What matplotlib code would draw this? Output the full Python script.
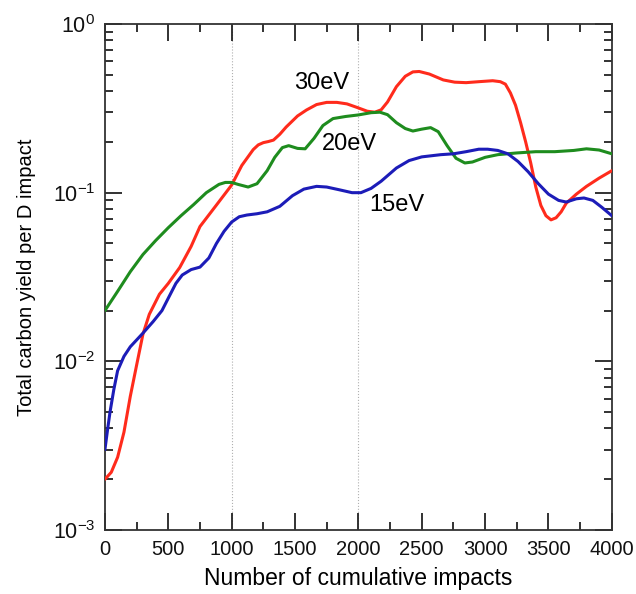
import matplotlib
matplotlib.use("Agg")
import matplotlib.pyplot as plt
from matplotlib.ticker import LogLocator, MultipleLocator, FixedLocator, FixedFormatter, NullFormatter

plt.rcParams["font.family"] = ["Liberation Sans", "DejaVu Sans"]
plt.rcParams["mathtext.fontset"] = "custom"
plt.rcParams["mathtext.rm"] = "Liberation Sans"
plt.rcParams["mathtext.default"] = "regular"

# 30 eV series
x30 = [0, 50, 100, 150, 200, 250, 300, 350, 430, 500, 590, 680, 750, 880, 1000,
       1080, 1170, 1210, 1250, 1290, 1330, 1380, 1430, 1520, 1590, 1670, 1750, 1830,
       1910, 1990, 2070, 2130, 2180, 2230, 2300, 2370, 2430, 2480, 2560, 2670, 2760,
       2850, 2950, 3060, 3120, 3160, 3200, 3240, 3280, 3320, 3360, 3400, 3440, 3480,
       3520, 3560, 3600, 3640, 3720, 3800, 3900, 4000]
y30 = [0.002, 0.0022, 0.0027, 0.0038, 0.0062, 0.0095, 0.0145, 0.019, 0.025, 0.029,
       0.036, 0.048, 0.063, 0.0845, 0.111,
       0.145, 0.18, 0.192, 0.198, 0.201, 0.205, 0.222, 0.245, 0.285, 0.309, 0.333, 0.343,
       0.343, 0.336, 0.32, 0.304, 0.30, 0.31, 0.345, 0.425, 0.49, 0.52, 0.523, 0.505,
       0.466, 0.452, 0.449, 0.455, 0.461, 0.455, 0.44, 0.39, 0.33, 0.26, 0.2, 0.15,
       0.108, 0.084, 0.073, 0.069, 0.071, 0.077, 0.0865, 0.098, 0.109, 0.122, 0.135]

# 20 eV series
x20 = [0, 100, 200, 300, 400, 500, 600, 700, 800, 900, 950, 1000, 1050, 1130, 1200,
       1280, 1340, 1400, 1450, 1520, 1580, 1650, 1720, 1800, 1900, 2000, 2100, 2170,
       2230, 2300, 2370, 2430, 2500, 2570, 2630, 2700, 2770, 2840, 2900, 3000, 3100,
       3250, 3400, 3550, 3700, 3800, 3900, 4000]
y20 = [0.02, 0.026, 0.034, 0.043, 0.052, 0.062, 0.073, 0.085, 0.100, 0.112, 0.115, 0.115,
       0.112, 0.108, 0.113, 0.135, 0.162, 0.185, 0.19, 0.183, 0.182, 0.21, 0.25, 0.275,
       0.283, 0.289, 0.298, 0.30, 0.29, 0.26, 0.24, 0.232, 0.238, 0.243, 0.23, 0.19,
       0.16, 0.15, 0.152, 0.162, 0.168, 0.172, 0.175, 0.175, 0.178, 0.182, 0.179, 0.17]

# 15 eV series
x15 = [0, 20, 40, 70, 100, 150, 200, 300, 380, 450, 500, 560, 610, 680, 750, 820,
       880, 940, 1000, 1060, 1120, 1200, 1280, 1380, 1480, 1570, 1670, 1750, 1850,
       1950, 2020, 2100, 2180, 2300, 2400, 2500, 2650, 2750, 2850, 2950, 3020, 3100,
       3180, 3260, 3340, 3420, 3500, 3580, 3640, 3720, 3780, 3850, 3920, 4000]
y15 = [0.003, 0.0039, 0.005, 0.0068, 0.0088, 0.0107, 0.0122, 0.0147, 0.0172, 0.020,
       0.0237, 0.029, 0.0325, 0.035, 0.0362, 0.041, 0.05, 0.059, 0.067, 0.072, 0.0737,
       0.075, 0.077, 0.083, 0.096, 0.105, 0.109, 0.108, 0.104, 0.10, 0.10, 0.106, 0.117,
       0.14, 0.155, 0.163, 0.168, 0.17, 0.175, 0.181, 0.181, 0.178, 0.17, 0.153, 0.133,
       0.113, 0.098, 0.09, 0.088, 0.092, 0.093, 0.09, 0.082, 0.073]

series_labels = ["30eV", "20eV", "15eV"]
label_x = [1710, 1930, 2300]
label_y = [0.444, 0.194, 0.0845]
colors = ["#ff2b1c", "#1e8c1e", "#1c1cb8"]
ytick_vals = [1e-3, 1e-2, 1e-1, 1e0]
ytick_text = ["$10^{-3}$", "$10^{-2}$", "$10^{-1}$", "$10^{0}$"]
xtick_vals = [0, 500, 1000, 1500, 2000, 2500, 3000, 3500, 4000]
guide_x = [1000, 2000]

fig = plt.figure(figsize=(6.36, 5.94), dpi=100)
ax = fig.add_axes([0.165, 0.1077, 0.797, 0.8519])

for xv in guide_x:
    ax.axvline(xv, color="#b0b0b0", lw=0.8, ls=":", zorder=1)

for xs, ys, c in zip([x30, x20, x15], [y30, y20, y15], colors):
    ax.plot(xs, ys, color=c, lw=2.2, solid_joinstyle="round", solid_capstyle="round", zorder=3)

ax.set_yscale("log")
ax.set_xlim(0, 4000)
ax.set_ylim(1e-3, 1)

ax.xaxis.set_major_locator(FixedLocator(xtick_vals))
ax.xaxis.set_minor_locator(MultipleLocator(250))
ax.yaxis.set_major_locator(FixedLocator(ytick_vals))
ax.yaxis.set_major_formatter(FixedFormatter(ytick_text))
ax.yaxis.set_minor_locator(LogLocator(base=10, subs=range(2, 10)))
ax.yaxis.set_minor_formatter(NullFormatter())

ax.tick_params(which="both", direction="in", top=True, right=True, width=1.3, colors="#222222",
               labelcolor="#111111")
ax.tick_params(which="major", length=12)
ax.tick_params(which="minor", length=6)
ax.tick_params(axis="x", which="major", labelsize=14.5, pad=7)
ax.tick_params(axis="y", which="major", labelsize=15.5, pad=7)
for sp in ax.spines.values():
    sp.set_linewidth(1.3)
    sp.set_color("#333333")

ax.set_xlabel("Number of cumulative impacts", fontsize=16.5, labelpad=6)
ax.set_ylabel("Total carbon yield per D impact", fontsize=14.5, labelpad=12)

for lbl, lx, ly in zip(series_labels, label_x, label_y):
    ax.text(lx, ly, lbl, fontsize=17, ha="center", va="center")

fig.savefig("out.png", dpi=100)
